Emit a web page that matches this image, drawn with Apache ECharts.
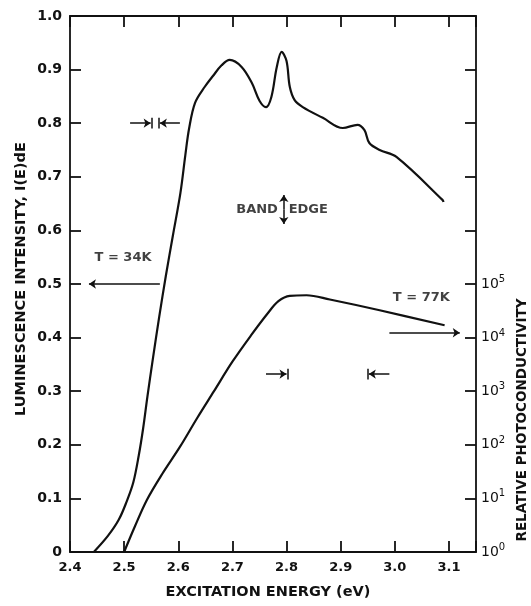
<!DOCTYPE html>
<html><head><meta charset="utf-8">
<script src="https://cdn.jsdelivr.net/npm/echarts@6/dist/echarts.min.js"></script>
<style>html,body{margin:0;padding:0;background:#fff}#c{width:531px;height:606px}</style>
</head><body><div id="c"></div>
<script>
// Luminescence spectrum at T = 34 K (left axis, linear)
const energy34K = [2.444, 2.470, 2.490, 2.505, 2.517, 2.527, 2.535, 2.543, 2.553, 2.565, 2.577, 2.590, 2.604, 2.613, 2.620, 2.631, 2.649, 2.664, 2.680, 2.695, 2.717, 2.736, 2.750, 2.762, 2.772, 2.782, 2.791, 2.800, 2.806, 2.815, 2.830, 2.867, 2.904, 2.931, 2.944, 2.953, 2.972, 3.003, 3.088, 3.090];
const lum34K =    [0.000, 0.030, 0.060, 0.095, 0.130, 0.180, 0.230, 0.290, 0.360, 0.440, 0.515, 0.590, 0.670, 0.740, 0.790, 0.838, 0.868, 0.888, 0.908, 0.918, 0.905, 0.875, 0.842, 0.830, 0.849, 0.905, 0.933, 0.916, 0.868, 0.843, 0.830, 0.810, 0.791, 0.797, 0.787, 0.763, 0.750, 0.737, 0.657, 0.653];
// Relative photoconductivity at T = 77 K (right axis, log10 of value)
const energy77K = [2.500, 2.520, 2.542, 2.570, 2.603, 2.635, 2.666, 2.700, 2.735, 2.765, 2.785, 2.806, 2.837, 2.880, 2.972, 3.092];
const photo77KLog10 = [0.00, 0.48, 0.97, 1.45, 1.96, 2.50, 3.00, 3.55, 4.05, 4.45, 4.68, 4.78, 4.79, 4.71, 4.51, 4.23];
// Annotation texts
const labelT34 = 'T = 34K';
const labelT77 = 'T = 77K';
const labelBand = 'BAND';
const labelEdge = 'EDGE';
const xTitle = 'EXCITATION ENERGY (eV)';
const yTitle = 'LUMINESCENCE INTENSITY, I(E)dE';
const y2Title = 'RELATIVE PHOTOCONDUCTIVITY';

const FONT = 'DejaVu Sans';
const INK = '#111';
const chart = echarts.init(document.getElementById('c'), null, {renderer: 'canvas'});

const axisCommon = {
  splitLine: {show: false},
  axisLine: {show: true, onZero: false, lineStyle: {color: INK, width: 1.8}},
  axisTick: {show: true, inside: true, length: 11, lineStyle: {color: INK, width: 1.8}},
};
const lum34 = energy34K.map((e, i) => [e, lum34K[i]]);
const pc77 = energy77K.map((e, i) => [e, photo77KLog10[i]]);

function arrowLine(x1, x2, y) {
  return [{coord: [x1, y], symbol: 'none'}, {coord: [x2, y], symbol: 'arrow'}];
}
function barLine(x, y) {
  return [{coord: [x, y - 0.010], symbol: 'none'}, {coord: [x, y + 0.010], symbol: 'none'}];
}

const option = {
  animation: false,
  backgroundColor: '#fff',
  grid: {left: 70, right: 55, top: 16, bottom: 54},
  xAxis: [
    Object.assign({}, axisCommon, {
      type: 'value', min: 2.4, max: 3.15, interval: 0.1, position: 'bottom',
      axisLabel: {
        margin: 9, color: INK, fontFamily: FONT, fontWeight: 'bold', fontSize: 13,
        formatter: v => Math.abs(v * 10 - Math.round(v * 10)) > 1e-6 ? '' : v.toFixed(1)
      }
    }),
    Object.assign({}, axisCommon, {
      type: 'value', min: 2.4, max: 3.15, interval: 0.1, position: 'top',
      axisLabel: {show: false}
    })
  ],
  yAxis: [
    Object.assign({}, axisCommon, {
      type: 'value', min: 0, max: 1, interval: 0.1, position: 'left',
      axisLabel: {
        margin: 8, color: INK, fontFamily: FONT, fontWeight: 'bold', fontSize: 14,
        formatter: v => v === 0 ? '0' : v.toFixed(1)
      }
    }),
    Object.assign({}, axisCommon, {
      type: 'value', min: 0, max: 10, interval: 1, position: 'right',
      axisLabel: {
        margin: 5, color: INK, fontFamily: FONT, fontSize: 14,
        formatter: v => v <= 5 ? '10{sup|' + v + '}' : '',
        rich: {sup: {fontSize: 10, fontFamily: FONT, color: INK, verticalAlign: 'bottom', padding: [0, 0, 9, 0]}}
      }
    })
  ],
  series: [
    {
      type: 'line', name: 'T = 34 K', xAxisIndex: 0, yAxisIndex: 0,
      data: lum34, smooth: 0.35, showSymbol: false, silent: true,
      lineStyle: {color: INK, width: 2.2}
    },
    {
      type: 'line', name: 'T = 77 K', xAxisIndex: 0, yAxisIndex: 1,
      data: pc77, smooth: 0.35, showSymbol: false, silent: true,
      lineStyle: {color: INK, width: 2.2}
    },
    {
      type: 'line', name: 'annotations', xAxisIndex: 0, yAxisIndex: 0, data: [],
      markLine: {
        silent: true, animation: false, symbolSize: 7, precision: 3,
        label: {show: false},
        lineStyle: {color: INK, width: 1.5, type: 'solid'},
        emphasis: {disabled: true},
        data: [
          arrowLine(2.566, 2.435, 0.5),
          arrowLine(2.990, 3.120, 0.409),
          arrowLine(2.511, 2.549, 0.8),
          barLine(2.551, 0.8),
          arrowLine(2.603, 2.566, 0.8),
          barLine(2.564, 0.8),
          arrowLine(2.762, 2.800, 0.332),
          barLine(2.802, 0.332),
          arrowLine(2.990, 2.952, 0.332),
          barLine(2.950, 0.332),
          [{coord: [2.795, 0.639], symbol: 'none'}, {coord: [2.795, 0.666], symbol: 'arrow'}],
          [{coord: [2.795, 0.639], symbol: 'none'}, {coord: [2.795, 0.612], symbol: 'arrow'}]
        ]
      }
    },
    {
      type: 'scatter', name: 'texts', xAxisIndex: 0, yAxisIndex: 0, symbolSize: 0, silent: true,
      label: {show: true, color: INK, fontFamily: FONT, fontWeight: 'bold', fontSize: 13, formatter: p => p.name},
      data: [
        {name: labelT34, value: [2.498, 0.550], label: {position: 'inside', align: 'center'}},
        {name: labelT77, value: [3.049, 0.474], label: {position: 'inside', align: 'center'}},
        {name: labelBand, value: [2.784, 0.638], label: {position: 'inside', align: 'right'}},
        {name: labelEdge, value: [2.804, 0.638], label: {position: 'inside', align: 'left'}}
      ]
    }
  ],
  graphic: [
    {type: 'text', x: 268, y: 592, silent: true,
     style: {text: xTitle, fontFamily: FONT, fontWeight: 'bold', fontSize: 14.5, fill: INK, align: 'center', verticalAlign: 'middle'}},
    {type: 'text', x: 21, y: 279, rotation: Math.PI / 2, silent: true,
     style: {text: yTitle, fontFamily: FONT, fontWeight: 'bold', fontSize: 14.5, fill: INK, align: 'center', verticalAlign: 'middle'}},
    {type: 'text', x: 522, y: 420, rotation: Math.PI / 2, silent: true,
     style: {text: y2Title, fontFamily: FONT, fontWeight: 'bold', fontSize: 13.5, fill: INK, align: 'center', verticalAlign: 'middle'}}
  ]
};
chart.setOption(option);
</script></body></html>
